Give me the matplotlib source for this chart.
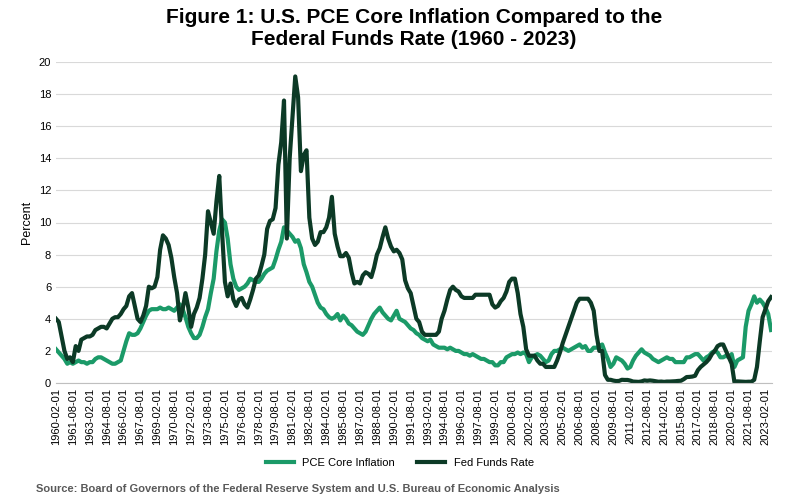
import pandas as pd
import matplotlib.pyplot as plt
import matplotlib.dates as mdates

plt.rcParams['font.family'] = ['Liberation Sans', 'DejaVu Sans']

# quarterly readings, starting 1960-02
pce_core = [
    2.1, 1.9, 1.7, 1.5, 1.2, 1.3, 1.2, 1.3, 1.4, 1.3, 1.3, 1.2, 1.3, 1.3, 1.5, 1.6,
    1.6, 1.5, 1.4, 1.3, 1.2, 1.2, 1.3, 1.4, 2.0, 2.6, 3.1, 3.0, 3.0, 3.1, 3.4, 3.8,
    4.2, 4.5, 4.6, 4.6, 4.6, 4.7, 4.6, 4.6, 4.7, 4.6, 4.5, 4.7, 4.9, 4.6, 4.1, 3.5,
    3.1, 2.8, 2.8, 3.0, 3.5, 4.1, 4.6, 5.6, 6.5, 8.2, 9.5, 10.2, 10.0, 9.0, 7.4, 6.5,
    6.0, 5.8, 5.9, 6.0, 6.2, 6.5, 6.4, 6.3, 6.3, 6.5, 6.8, 7.0, 7.1, 7.2, 7.7, 8.3,
    8.8, 9.7, 9.5, 9.3, 9.1, 8.8, 8.9, 8.4, 7.4, 6.9, 6.3, 6.0, 5.5, 5.0, 4.7, 4.6,
    4.3, 4.1, 4.0, 4.1, 4.3, 3.9, 4.2, 4.0, 3.7, 3.6, 3.4, 3.2, 3.1, 3.0, 3.2, 3.6,
    4.0, 4.3, 4.5, 4.7, 4.4, 4.2, 4.0, 3.9, 4.2, 4.5, 4.0, 3.9, 3.8, 3.6, 3.4, 3.3,
    3.1, 3.0, 2.8, 2.7, 2.6, 2.7, 2.4, 2.3, 2.2, 2.2, 2.2, 2.1, 2.2, 2.1, 2.0, 2.0,
    1.9, 1.8, 1.8, 1.7, 1.8, 1.7, 1.6, 1.5, 1.5, 1.4, 1.3, 1.3, 1.1, 1.1, 1.3, 1.3,
    1.6, 1.7, 1.8, 1.8, 1.9, 1.8, 1.9, 1.8, 1.3, 1.6, 1.7, 1.8, 1.7, 1.5, 1.3, 1.4,
    1.8, 2.0, 2.0, 2.1, 2.2, 2.1, 2.0, 2.1, 2.2, 2.3, 2.4, 2.2, 2.3, 2.0, 2.0, 2.2,
    2.2, 2.3, 2.4, 1.9, 1.5, 1.0, 1.2, 1.6, 1.5, 1.4, 1.2, 0.9, 1.0, 1.4, 1.7, 1.9,
    2.1, 1.9, 1.8, 1.7, 1.5, 1.4, 1.3, 1.4, 1.5, 1.6, 1.5, 1.5, 1.3, 1.3, 1.3, 1.3,
    1.6, 1.6, 1.7, 1.8, 1.8, 1.6, 1.4, 1.6, 1.7, 1.9, 2.0, 1.9, 1.6, 1.6, 1.7, 1.6,
    1.8, 1.0, 1.4, 1.5, 1.6, 3.5, 4.5, 4.9, 5.4, 5.0, 5.2, 5.0, 4.7, 4.3, 3.3,
]
fed_funds = [
    4.0, 3.8, 2.9, 2.0, 1.5, 1.6, 1.3, 2.3, 2.0, 2.7, 2.8, 2.9, 2.9, 3.0, 3.3, 3.4,
    3.5, 3.5, 3.4, 3.7, 4.0, 4.1, 4.1, 4.3, 4.6, 4.8, 5.4, 5.6, 4.8, 4.0, 3.8, 4.2,
    4.8, 6.0, 5.9, 6.0, 6.6, 8.3, 9.2, 9.0, 8.6, 7.8, 6.6, 5.6, 3.9, 4.6, 5.6, 4.7,
    3.5, 4.3, 4.7, 5.3, 6.5, 8.0, 10.7, 10.0, 9.3, 11.3, 12.9, 9.4, 6.3, 5.4, 6.2, 5.2,
    4.8, 5.2, 5.3, 4.9, 4.7, 5.2, 5.8, 6.5, 6.7, 7.3, 8.0, 9.6, 10.1, 10.2, 10.9, 13.6,
    15.0, 17.6, 9.0, 14.0, 16.6, 19.1, 17.8, 13.2, 14.2, 14.5, 10.3, 9.0, 8.6, 8.8, 9.4, 9.4,
    9.7, 10.3, 11.6, 9.3, 8.5, 7.9, 7.9, 8.1, 7.8, 6.9, 6.2, 6.3, 6.2, 6.7, 6.9, 6.8,
    6.6, 7.2, 8.0, 8.4, 9.1, 9.7, 9.0, 8.5, 8.2, 8.3, 8.1, 7.7, 6.4, 5.9, 5.6, 4.8,
    4.0, 3.8, 3.2, 3.0, 3.0, 3.0, 3.0, 3.0, 3.2, 4.0, 4.5, 5.2, 5.8, 6.0, 5.8, 5.7,
    5.4, 5.3, 5.3, 5.3, 5.3, 5.5, 5.5, 5.5, 5.5, 5.5, 5.5, 4.9, 4.7, 4.8, 5.1, 5.3,
    5.7, 6.3, 6.5, 6.5, 5.6, 4.3, 3.5, 2.1, 1.7, 1.7, 1.7, 1.4, 1.2, 1.2, 1.0, 1.0,
    1.0, 1.0, 1.4, 1.9, 2.5, 3.0, 3.5, 4.0, 4.5, 5.0, 5.25, 5.25, 5.25, 5.25, 5.0, 4.5,
    3.0, 2.0, 2.0, 0.5, 0.2, 0.2, 0.15, 0.12, 0.13, 0.2, 0.19, 0.19, 0.15, 0.09, 0.08, 0.07,
    0.1, 0.16, 0.14, 0.16, 0.14, 0.11, 0.08, 0.09, 0.07, 0.09, 0.09, 0.1, 0.11, 0.13, 0.14, 0.24,
    0.37, 0.38, 0.4, 0.45, 0.8, 1.0, 1.15, 1.3, 1.5, 1.8, 2.0, 2.3, 2.4, 2.4, 2.0, 1.6,
    1.2, 0.05, 0.1, 0.09, 0.08, 0.07, 0.08, 0.08, 0.2, 1.0, 2.6, 4.1, 4.6, 5.1, 5.35,
]

dates = pd.date_range('1960-02-01', periods=len(pce_core), freq='3MS')
tick_dates = pd.date_range('1960-02-01', '2023-02-01', freq='18MS')

fig, ax = plt.subplots(figsize=(8, 5), dpi=100)
ax.plot(dates, pce_core, color='#1b9a68', lw=3, label='PCE Core Inflation')
ax.plot(dates[:len(fed_funds)], fed_funds, color='#0c3a26', lw=3, label='Fed Funds Rate')

ax.set_ylim(0, 20)
ax.set_yticks(range(0, 21, 2))
ax.set_xlim(dates[0], pd.Timestamp('2023-09-01'))
ax.set_xticks(tick_dates)
ax.xaxis.set_major_formatter(mdates.DateFormatter('%Y-%m-%d'))
ax.tick_params(axis='x', rotation=90, labelsize=8, length=0)
ax.tick_params(axis='y', labelsize=8, length=0)
ax.grid(axis='y', color='#d9d9d9', lw=0.8)
ax.set_axisbelow(True)
for s in ['top', 'right', 'left']:
    ax.spines[s].set_visible(False)
ax.spines['bottom'].set_color('#bfbfbf')
ax.set_ylabel('Percent', fontsize=9)

ax.set_title('Figure 1: U.S. PCE Core Inflation Compared to the\nFederal Funds Rate (1960 - 2023)',
             fontsize=15, fontweight='bold', pad=12)
fig.legend(loc='lower center', bbox_to_anchor=(0.5, 0.045), ncol=2, frameon=False,
           fontsize=8, handlelength=2.5)
fig.text(0.045, 0.015, 'Source: Board of Governors of the Federal Reserve System and U.S. Bureau of Economic Analysis',
         fontsize=8, fontweight='bold', color='#595959')

fig.subplots_adjust(left=0.07, right=0.965, top=0.876, bottom=0.234)
fig.savefig('out.png')
